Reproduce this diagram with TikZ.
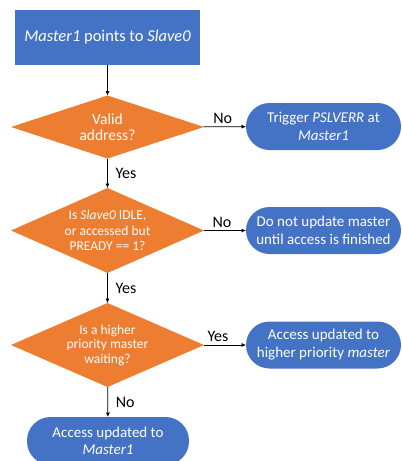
\documentclass[tikz,border=0pt]{standalone}
\usepackage{fontspec}
\setmainfont{Carlito}
\usetikzlibrary{shapes.geometric,arrows.meta}
\definecolor{boxblue}{HTML}{4472C4}
\definecolor{decorange}{HTML}{ED7D31}
\tikzset{
  every node/.style={inner sep=0pt, outer sep=0pt},
  procbox/.style={rectangle, fill=boxblue, text=white, minimum width=185pt, minimum height=55pt,
    font=\fontsize{16.5}{19}\selectfont},
  decision/.style={diamond, fill=decorange, minimum width=193pt},
  dtext/.style={text=white, align=center},
  endbox/.style={rectangle, rounded corners=23.5pt, fill=boxblue, text=white, align=center,
    minimum width=155pt, minimum height=47pt, font=\fontsize{15}{18}\selectfont},
  flow/.style={draw=black, line width=0.7pt, -{Latex[length=4.5pt,width=4pt]}},
  lbl/.style={text=black, font=\fontsize{16}{18}\selectfont},
}
\begin{document}
\begin{tikzpicture}[x=1pt,y=-1pt]
\useasboundingbox (0,0) rectangle (402,461);
\clip (0,0) rectangle (402,461);

% start block
\node[procbox] (start) at (107.5,37.5) {\textit{Master1} points to \textit{Slave0}};

% decisions
\node[decision, minimum height=63pt,
  label={[dtext, font=\fontsize{15.5}{16.5}\selectfont]center:Valid\\address?}] (d1) at (107.5,127) {};
\node[decision, minimum height=85pt,
  label={[dtext, font=\fontsize{13.5}{15.5}\selectfont]center:Is \textit{Slave0} IDLE,\\or accessed but\\PREADY == 1?}] (d2) at (107.5,230.5) {};
\node[decision, minimum height=84pt,
  label={[dtext, font=\fontsize{13.5}{14.5}\selectfont]center:Is a higher\\priority master\\waiting?}] (d3) at (107.5,345) {};

% outcomes
\node[endbox] (t1) at (323.5,126.5) {Trigger \textit{PSLVERR} at\\\textit{Master1}};
\node[endbox] (t2) at (323.5,230.5) {Do not update master\\until access is finished};
\node[endbox] (t3) at (323.5,345) {Access updated to\\higher priority \textit{master}};
\node[endbox, minimum width=162pt, minimum height=48pt, font=\fontsize{15}{17}\selectfont] (t4) at (108,441) {Access updated to\\\textit{Master1}};

% connectors
\draw[flow] (start) -- (d1);
\draw[flow] (d1) -- node[lbl, above=3pt, xshift=-2pt]{No} (t1);
\draw[flow] (d1) -- node[lbl, right=8pt]{Yes} (d2);
\draw[flow] (d2) -- node[lbl, above=3pt, xshift=-3pt]{No} (t2);
\draw[flow] (d2) -- node[lbl, right=8pt]{Yes} (d3);
\draw[flow] (d3) -- node[lbl, above=3pt, xshift=-7pt]{Yes} (t3);
\draw[flow] (d3) -- node[lbl, right=8pt]{No} (t4);
\end{tikzpicture}
\end{document}
